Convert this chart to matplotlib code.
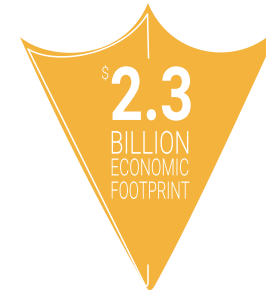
import numpy as np
import matplotlib
matplotlib.use("Agg")
import matplotlib.pyplot as plt
from matplotlib.patches import Polygon
from matplotlib.patheffects import AbstractPathEffect
from matplotlib.transforms import Affine2D
from matplotlib import font_manager as fm
from math import comb

# ---- data ----
value_prefix = "$"
value = 2.3
unit_lines = ["BILLION", "ECONOMIC", "FOOTPRINT"]

# ---- style ----
W, H = 266, 292
GOLD = "#F3B33D"
WHITE = "#FFFFFF"


def pick_font(families, max_weight):
    for fam in families:
        cands = [f for f in fm.fontManager.ttflist
                 if f.name == fam and f.style == "normal"
                 and isinstance(f.weight, int) and f.weight <= max_weight]
        if cands:
            cands.sort(key=lambda f: -f.weight)
            return fm.FontProperties(fname=cands[0].fname)
    return fm.FontProperties(family="Roboto", weight="normal")


light_fp = pick_font(["Roboto", "Lato", "Open Sans", "Inter", "Noto Sans"], 300)
bold_fp = fm.FontProperties(family="Roboto", weight="bold")

fig = plt.figure(figsize=(W / 100, H / 100), dpi=100)
ax = fig.add_axes([0, 0, 1, 1])
ax.set_xlim(0, W)
ax.set_ylim(H, 0)
ax.axis("off")


def bez(ctrl, n=80, t0=0.0, t1=1.0):
    ctrl = np.asarray(ctrl, float)
    k = len(ctrl) - 1
    t = np.linspace(t0, t1, n)[:, None]
    return sum(comb(k, i) * t**i * (1 - t) ** (k - i) * ctrl[i] for i in range(k + 1))


# shape geometry (pixel space)
left_corner = (20, 37)
top_tip = (148, 3)
right_corner = (282, 22)
bottom_tip = (150, 294)

left_arc = bez([left_corner, (50, 62), (124, 62), top_tip])
right_arc = bez([top_tip, (172, 62), (248, 68), right_corner])
right_edge = bez([right_corner, (241, 110), (192, 220), bottom_tip], t1=0.965)
left_edge = bez([bottom_tip, (76, 164), left_corner], t0=0.03)
tip = bez([right_edge[-1], bottom_tip, left_edge[0]], n=20)

outline = np.vstack([left_arc, right_arc[1:], right_edge[1:], tip[1:-1], left_edge])
ax.add_patch(Polygon(outline, closed=True, facecolor=GOLD, edgecolor="none"))

# inner white hand-drawn line
inner_top = bez([(28, 49), (55, 66), (122, 56), (147.5, 14)])
inner_left = bez([(28, 49), (86, 166), (145, 285)])
line = np.vstack([
    [(148.5, 58)],
    inner_top[::-1],
    inner_left[1:],
    [(146.5, 286.5), (148, 284), (148, 265)],
])
ax.plot(line[:, 0], line[:, 1], color=WHITE, lw=1.1,
        solid_joinstyle="round", solid_capstyle="round")


class FitBox(AbstractPathEffect):
    """Draw the text so that its ink fills a given box (data coords)."""

    def __init__(self, axes, box):
        super().__init__()
        self.axes = axes
        self.box = box

    def draw_path(self, renderer, gc, tpath, affine, rgbFace=None):
        bb = tpath.get_extents(affine)
        x0, y0, x1, y1 = self.box
        (X0, Y0), (X1, Y1) = self.axes.transData.transform([(x0, y0), (x1, y1)])
        tx0, tx1 = sorted((X0, X1))
        ty0, ty1 = sorted((Y0, Y1))
        fit = (Affine2D().translate(-bb.x0, -bb.y0)
               .scale((tx1 - tx0) / bb.width, (ty1 - ty0) / bb.height)
               .translate(tx0, ty0))
        renderer.draw_path(gc, tpath, affine + fit, rgbFace)


def fitted_text(s, box, fp):
    cx = (box[0] + box[2]) / 2
    cy = (box[1] + box[3]) / 2
    size = 0.55 * abs(box[3] - box[1])
    ax.text(cx, cy, s, color=WHITE, fontproperties=fp, fontsize=size,
            ha="center", va="center", path_effects=[FitBox(ax, box)])


fitted_text(value_prefix, (102, 65, 108.3, 80.5), light_fp)
fitted_text(f"{value:.1f}", (111.7, 66.3, 190.7, 120.7), bold_fp)
line_boxes = [(111.7, 130.7, 188.3, 154.0),
              (111.7, 158.3, 188.3, 175.7),
              (111.7, 181.3, 189.3, 199.0)]
for s, b in zip(unit_lines, line_boxes):
    fitted_text(s, b, light_fp)

fig.savefig("out.png", dpi=100, facecolor="white")
